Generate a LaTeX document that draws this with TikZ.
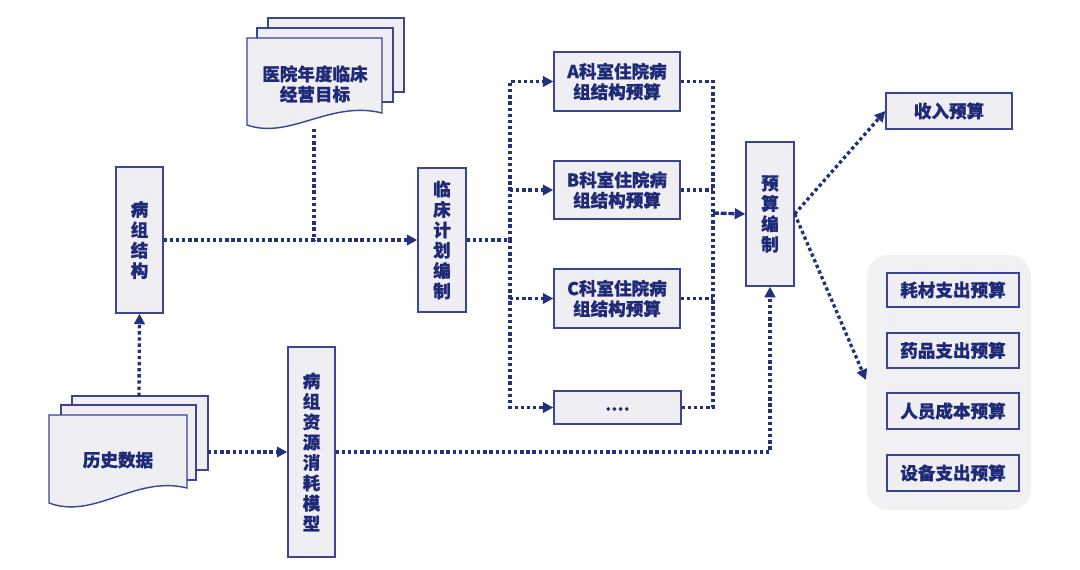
\documentclass[tikz,border=0pt]{standalone}
\usepackage{fontspec}
\newfontfamily\cjk{Noto Sans CJK SC}[BoldFeatures={FakeBold=0.6}]
\usetikzlibrary{arrows.meta}
\definecolor{bord}{HTML}{3D4491}
\definecolor{boxfill}{HTML}{EEEEF3}
\definecolor{txt}{HTML}{1E2A78}
\definecolor{ln}{HTML}{22307E}
\definecolor{grp}{HTML}{F1F1F4}
\tikzset{
 box/.style={draw=bord, fill=boxfill, line width=0.8pt, inner sep=0pt, text=txt,
   font=\cjk\bfseries\fontsize{10}{11.6}\selectfont, align=center},
 sz/.style 2 args={minimum width=#1*0.02cm, minimum height=#2*0.02cm},
 page/.style={draw=bord, fill=boxfill, line width=0.8pt},
 lbl/.style={text=txt, font=\cjk\bfseries\fontsize{10}{11.6}\selectfont, align=center, inner sep=0pt},
 dotln/.style={draw=ln, line width=1.9pt, dash pattern=on 1.9pt off 1.6pt},
 dashln/.style={draw=ln, line width=1.9pt, dash pattern=on 3.4pt off 1pt},
 tip/.style={-{Triangle[length=6pt,width=6pt]}},
}
\begin{document}
\begin{tikzpicture}[x=0.02cm,y=-0.02cm]
\useasboundingbox (0,0) rectangle (1080,569);
% group background
\fill[grp, rounded corners=12pt] (867,255) rectangle (1031,510);
% document stack: goal
\draw[page] (268,18) rectangle (404,92);
\draw[page] (257,28) rectangle (393,102);
\draw[page] (247,38) -- (382,38) -- (382,113) .. controls (330,100) and (290,140) .. (247,125) -- cycle;
\node[lbl] (goal) at (315,84) {医院年度临床\\经营目标};
\coordinate (goalbot) at (314,129);
\coordinate (join) at (314,240);
% document stack: history
\draw[page] (72,396) rectangle (208,470);
\draw[page] (61,405) rectangle (196,480);
\draw[page] (49,415) -- (187,415) -- (187,488) .. controls (135,475) and (95,520) .. (49,503) -- cycle;
\node[lbl] (hist) at (118,460) {历史数据};
\coordinate (histtop) at (139,396);
\coordinate (histright) at (208,452);
% boxes
\node[box, sz={47}{146}] (bz) at (139.5,240) {病\\组\\结\\构};
\node[box, sz={48}{144}] (lc) at (442,240) {临\\床\\计\\划\\编\\制};
\node[box, sz={47}{210}] (model) at (311.5,452) {病\\组\\资\\源\\消\\耗\\模\\型};
\node[box, sz={126}{59}] (A) at (617,81.5) {A科室住院病\\组结构预算};
\node[box, sz={126}{58}] (B) at (617,190) {B科室住院病\\组结构预算};
\node[box, sz={126}{59}] (C) at (617,298.5) {C科室住院病\\组结构预算};
\node[box, sz={127}{33}] (D) at (617.5,407.5) {};
\node[lbl] (Dt) at (617.5,409) {....};
\node[box, sz={48}{144}] (yb) at (770,214) {预\\算\\编\\制};
\node[box, sz={126}{36}] (inc) at (949,111) {收入预算};
\node[box, sz={132}{34}] (e1) at (953,290) {耗材支出预算};
\node[box, sz={132}{35}] (e2) at (953,350.5) {药品支出预算};
\node[box, sz={132}{36}] (e3) at (953,411) {人员成本预算};
\node[box, sz={132}{36}] (e4) at (953,473) {设备支出预算};
\coordinate (grpw) at (866,380);
% connectors
\draw[dotln, tip] (bz.east) -- (lc.west);
\draw[dotln] (goalbot) -- (join);
\draw[dotln, tip] (histtop) -- (bz.south);
\draw[dotln, tip] (histright) -- (model.west);
\coordinate (split) at (510,240);
\coordinate (merge) at (713,213);
\draw[dotln] (lc.east) -- (split);
\draw[dotln, tip] (split) |- (A.west);
\draw[dotln, tip] (split) |- (D.west);
\draw[dotln, tip] (split |- B.west) -- (B.west);
\draw[dotln, tip] (split |- C.west) -- (C.west);
\draw[dotln] (A.east) -| (merge);
\draw[dotln] (D.east) -| (merge);
\draw[dotln] (B.east) -- (B.east -| merge);
\draw[dotln] (C.east) -- (C.east -| merge);
\draw[dashln, tip] (merge) -- (yb.west);
\draw[dotln, tip] (yb.east) -- (inc.west);
\draw[dotln, tip] (yb.east) -- (grpw);
\draw[dotln, tip] (model.east) -| (yb.south);
\end{tikzpicture}
\end{document}
